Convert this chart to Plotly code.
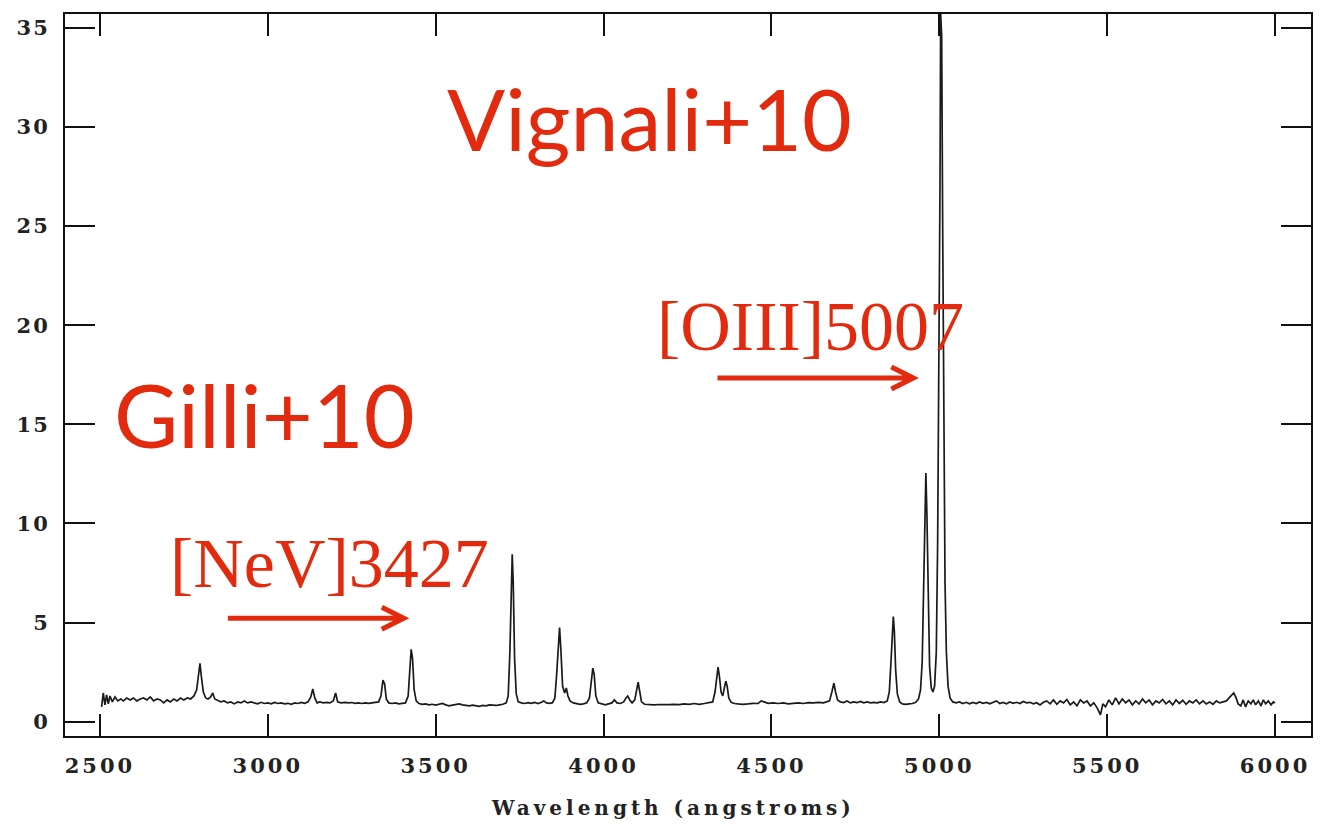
import plotly.graph_objects as go

# Optical spectrum: wavelength (Angstrom) and flux
wavelength = [
    2505, 2510, 2515, 2520, 2525, 2530, 2537, 2545, 2553, 2562, 2570, 2580, 2590, 2600,
    2610, 2620, 2630, 2640, 2650, 2660, 2670, 2680, 2690, 2700, 2710, 2720, 2730, 2740,
    2750, 2760, 2770, 2780, 2788, 2794, 2798, 2802, 2808, 2815, 2822, 2830, 2836, 2842,
    2850, 2860, 2870, 2880, 2890, 2900, 2910, 2920, 2930, 2940, 2950, 2960, 2970, 2980,
    2990, 3000, 3010, 3020, 3030, 3040, 3050, 3060, 3070, 3080, 3090, 3100, 3110, 3120,
    3128, 3134, 3140, 3147, 3155, 3165, 3175, 3185, 3195, 3202, 3208, 3218, 3230, 3240,
    3250, 3260, 3270, 3280, 3290, 3300, 3310, 3320, 3330, 3337, 3343, 3348, 3353, 3360,
    3370, 3380, 3390, 3400, 3410, 3418, 3423, 3427, 3431, 3436, 3442, 3450, 3460, 3470,
    3480, 3490, 3500, 3510, 3520, 3530, 3540, 3550, 3560, 3570, 3580, 3590, 3600, 3610,
    3620, 3630, 3640, 3650, 3660, 3670, 3680, 3690, 3700, 3710, 3716, 3721, 3725, 3728,
    3731, 3735, 3740, 3746, 3755, 3765, 3775, 3785, 3795, 3805, 3815, 3822, 3830, 3840,
    3848, 3855, 3860, 3865, 3869, 3873, 3878, 3884, 3889, 3894, 3900, 3910, 3920, 3930,
    3940, 3950, 3958, 3963, 3968, 3972, 3977, 3984, 3995, 4005, 4015, 4025, 4032, 4040,
    4050, 4060, 4067, 4072, 4078, 4085, 4093, 4099, 4103, 4107, 4113, 4122, 4135, 4150,
    4165, 4180, 4195, 4210, 4225, 4240, 4255, 4270, 4285, 4300, 4315, 4325, 4332, 4337,
    4341, 4345, 4350, 4355, 4359, 4364, 4368, 4373, 4380, 4390, 4400, 4415, 4430, 4445,
    4460, 4470, 4478, 4490, 4505, 4520, 4535, 4550, 4565, 4580, 4595, 4610, 4625, 4640,
    4655, 4665, 4673, 4680, 4686, 4691, 4697, 4705, 4715, 4725, 4735, 4745, 4755, 4765,
    4775, 4785, 4795, 4805, 4815, 4825, 4835, 4845, 4851, 4856, 4860, 4863, 4866, 4870,
    4875, 4882, 4890, 4900, 4910, 4920, 4930, 4938, 4944, 4949, 4953, 4957, 4960, 4963,
    4967, 4971, 4976, 4981, 4986, 4991, 4995, 4999, 5002, 5004, 5007, 5010, 5013, 5017,
    5021, 5026, 5032, 5040, 5050, 5060, 5070, 5080, 5090, 5100, 5110, 5120, 5130, 5140,
    5150, 5160, 5170, 5180, 5190, 5200, 5210, 5220, 5230, 5240, 5250, 5260, 5270, 5280,
    5290, 5300, 5310, 5320, 5330, 5340, 5350, 5360, 5370, 5380, 5390, 5400, 5410, 5420,
    5430, 5440, 5450, 5460, 5470, 5480, 5487, 5495, 5505, 5515, 5525, 5535, 5545, 5555,
    5565, 5575, 5585, 5595, 5605, 5615, 5625, 5635, 5645, 5655, 5665, 5675, 5685, 5695,
    5705, 5715, 5725, 5735, 5745, 5755, 5765, 5775, 5785, 5795, 5805, 5815, 5825, 5835,
    5845, 5855, 5863, 5870, 5877, 5884, 5890, 5898, 5905, 5912, 5920, 5928, 5935, 5942,
    5950, 5958, 5965, 5972, 5980, 5988, 5995, 6000,
]
flux = [
    0.75, 1.45, 0.85, 1.35, 0.90, 1.30, 1.00, 1.25, 1.05, 1.15, 1.05, 1.20, 1.10, 1.20,
    1.05, 1.15, 1.20, 1.10, 1.25, 1.05, 1.15, 1.10, 0.95, 1.10, 1.00, 1.15, 1.05, 1.20,
    1.10, 1.20, 1.15, 1.30, 1.60, 2.50, 2.95, 2.30, 1.50, 1.20, 1.15, 1.25, 1.45, 1.15,
    1.10, 1.00, 1.05, 0.95, 1.00, 0.90, 1.00, 0.95, 1.05, 0.95, 1.00, 0.95, 0.90, 0.98,
    0.92, 0.95, 0.90, 0.97, 0.92, 0.95, 0.90, 0.93, 0.88, 0.95, 0.92, 0.97, 0.93, 1.00,
    1.25, 1.65, 1.20, 0.95, 1.00, 0.95, 0.98, 0.95, 1.05, 1.45, 1.00, 0.95, 0.98, 0.95,
    0.97, 0.93, 0.95, 0.92, 0.95, 0.93, 0.95, 0.97, 1.00, 1.30, 2.10, 1.90, 1.15, 0.95,
    0.92, 0.95, 0.90, 0.93, 0.95, 1.30, 2.60, 3.65, 3.20, 1.60, 1.05, 0.92, 0.88, 0.90,
    0.85, 0.88, 0.84, 0.87, 0.92, 0.85, 0.80, 0.84, 0.86, 0.90, 0.85, 0.82, 0.80, 0.84,
    0.80, 0.78, 0.82, 0.80, 0.85, 0.83, 0.82, 0.85, 0.88, 0.95, 1.30, 3.50, 7.20, 8.45,
    7.00, 3.20, 1.40, 1.00, 0.95, 0.92, 0.96, 0.93, 0.97, 0.92, 0.98, 1.05, 0.95, 0.93,
    0.96, 1.20, 2.30, 4.10, 4.75, 3.60, 1.80, 1.45, 1.70, 1.30, 1.05, 0.95, 0.90, 0.88,
    0.90, 0.95, 1.20, 2.00, 2.70, 2.40, 1.30, 0.95, 0.88, 0.85, 0.90, 0.95, 1.10, 0.95,
    0.92, 1.00, 1.20, 1.30, 1.10, 0.95, 1.10, 1.70, 2.00, 1.60, 1.00, 0.88, 0.86, 0.85,
    0.87, 0.85, 0.86, 0.88, 0.86, 0.90, 0.88, 0.92, 0.88, 0.92, 0.95, 1.00, 1.50, 2.40,
    2.75, 2.30, 1.50, 1.30, 1.60, 2.05, 1.80, 1.20, 0.98, 0.92, 0.90, 0.88, 0.90, 0.93,
    0.92, 1.05, 1.00, 0.93, 0.95, 0.92, 0.95, 0.90, 0.93, 0.95, 0.92, 0.96, 0.95, 0.98,
    0.95, 1.00, 1.05, 1.50, 1.95, 1.50, 1.10, 1.00, 0.97, 1.05, 0.95, 1.00, 0.96, 1.02,
    0.95, 1.00, 0.95, 0.98, 0.95, 1.00, 0.97, 1.05, 1.50, 3.00, 4.80, 5.30, 4.60, 2.60,
    1.40, 1.00, 0.90, 0.88, 0.90, 0.92, 0.98, 1.15, 1.60, 3.00, 6.50, 11.00, 12.55, 10.50,
    6.00, 2.80, 1.70, 1.50, 1.80, 3.50, 9.00, 18.00, 27.00, 35.70, 34.60, 25.00, 14.00, 7.00,
    3.50, 1.80, 1.20, 1.00, 0.95, 1.00, 0.92, 0.98, 0.90, 0.97, 0.92, 1.00, 0.93, 0.97,
    0.90, 0.98, 1.05, 0.92, 0.97, 0.90, 1.00, 0.93, 0.98, 0.92, 1.02, 0.95, 0.98, 0.90,
    0.96, 0.85, 0.98, 1.05, 0.90, 1.10, 0.88, 1.05, 0.95, 1.12, 0.85, 1.00, 0.80, 1.10,
    0.95, 1.05, 0.80, 0.95, 0.70, 0.35, 0.90, 0.75, 1.10, 0.85, 1.20, 0.90, 1.15, 0.95,
    1.10, 0.85, 1.05, 0.90, 1.15, 0.95, 1.10, 0.85, 1.05, 0.95, 1.12, 0.90, 1.05, 0.85,
    1.10, 0.92, 1.08, 0.88, 1.05, 0.95, 1.10, 0.90, 1.05, 0.90, 1.00, 0.88, 1.05, 0.95,
    1.00, 1.05, 1.20, 1.35, 1.45, 1.20, 0.90, 0.80, 1.10, 0.75, 1.05, 0.90, 1.10, 0.85,
    1.05, 0.80, 1.10, 0.90, 1.05, 0.85, 1.00, 0.95,
]

x_ticks = [2500, 3000, 3500, 4000, 4500, 5000, 5500, 6000]
y_ticks = [0, 5, 10, 15, 20, 25, 30, 35]
x_title = "Wavelength (angstroms)"

RED = "#E22B0E"
INK = "#1a1a1a"
W, H = 1325, 825
L, R, T, B = 65, 13, 12, 89
PW, PH = W - L - R, H - T - B


def px(x):
    return (x - L) / PW


def py(y):
    return (H - B - y) / PH


def spaced(s, sp):
    return f'<span style="letter-spacing:{sp}px">{s}</span>'


tick_font = dict(family="DejaVu Serif", size=21, color="#222", weight="bold")

fig = go.Figure()
fig.add_trace(go.Scatter(
    x=wavelength, y=flux, mode="lines",
    line=dict(color=INK, width=1.7), showlegend=False, hoverinfo="skip",
))

fig.update_layout(
    width=W, height=H,
    margin=dict(l=L, r=R, t=T, b=B, pad=0),
    paper_bgcolor="white", plot_bgcolor="white",
    xaxis=dict(
        range=[2396, 6107], showgrid=False, zeroline=False,
        showline=True, linecolor="#111", linewidth=2, mirror="ticks",
        ticks="inside", ticklen=22, tickwidth=2, tickcolor="#111",
        tickvals=x_ticks, ticktext=[spaced(str(v), 3) for v in x_ticks],
        tickfont=tick_font, ticklabelstandoff=10,
    ),
    yaxis=dict(
        range=[-0.72, 35.7], showgrid=False, zeroline=False,
        showline=True, linecolor="#111", linewidth=2, mirror="ticks",
        ticks="inside", ticklen=30, tickwidth=2, tickcolor="#111",
        tickvals=y_ticks, ticktext=[spaced(str(v), 2) for v in y_ticks],
        tickfont=tick_font, ticklabelstandoff=9,
    ),
)

annotations = [
    dict(x=px(673), y=py(808), text=spaced(x_title, 4), xanchor="center", yanchor="middle",
         font=dict(family="DejaVu Serif", size=20, color="#222", weight="bold")),
    dict(x=px(445), y=py(116), text="Vignali+10", xanchor="left", yanchor="middle",
         font=dict(family="Lato", size=86, color=RED)),
    dict(x=px(112), y=py(413), text="Gilli+10", xanchor="left", yanchor="middle",
         font=dict(family="Lato", size=88, color=RED)),
    dict(x=px(655), y=py(325), text="[OIII]5007", xanchor="left", yanchor="middle",
         font=dict(family="Liberation Serif", size=70, color=RED)),
    dict(x=px(168), y=py(563), text="[NeV]3427", xanchor="left", yanchor="middle",
         font=dict(family="Liberation Serif", size=70, color=RED)),
]
for a in annotations:
    a.update(xref="paper", yref="paper", showarrow=False)
fig.update_layout(annotations=annotations)


def arrow_path(x0, x1, y, head_len=22, head_half=11):
    return (f"M {px(x0)},{py(y)} L {px(x1)},{py(y)} "
            f"M {px(x1 - head_len)},{py(y - head_half)} L {px(x1)},{py(y)} "
            f"L {px(x1 - head_len)},{py(y + head_half)}")


for x0, x1, y in [(718, 914, 377), (228, 404, 618)]:
    fig.add_shape(type="path", path=arrow_path(x0, x1, y), xref="paper", yref="paper",
                  line=dict(color=RED, width=5))

fig.write_html("out.html")
